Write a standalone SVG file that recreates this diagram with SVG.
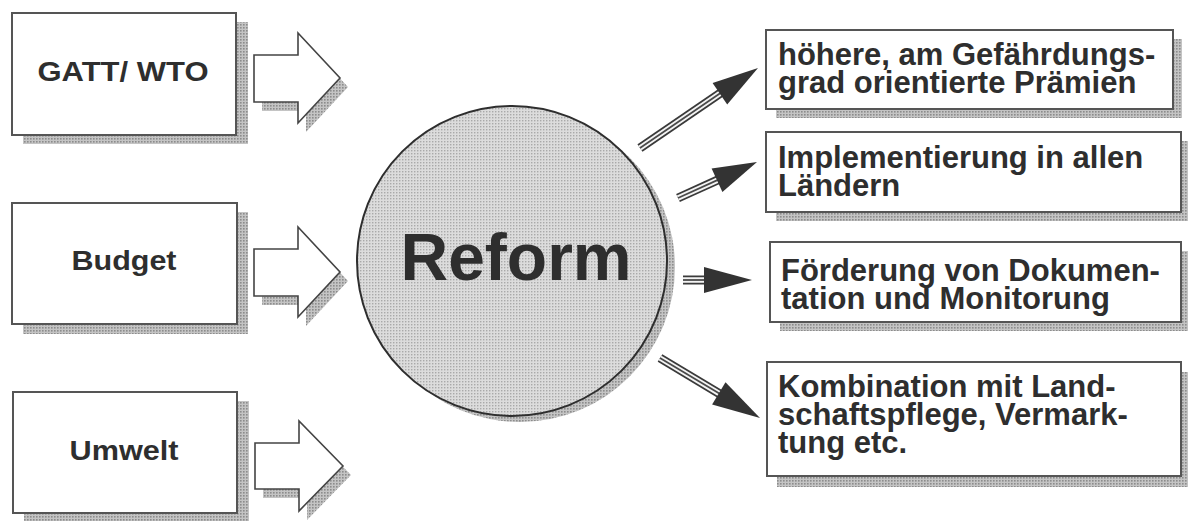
<svg xmlns="http://www.w3.org/2000/svg" width="1188" height="521" viewBox="0 0 1188 521">
  <defs>
    <!-- halftone dot screens -->
    <pattern id="shadeDots" width="3" height="3" patternUnits="userSpaceOnUse">
      <rect width="3" height="3" fill="#c4c4c4"/>
      <rect width="1.6" height="1.6" fill="#8c8c8c"/>
    </pattern>
    <pattern id="discDots" width="3" height="3" patternUnits="userSpaceOnUse">
      <rect width="3" height="3" fill="#dcdcdc"/>
      <rect width="1.4" height="1.4" fill="#a9a9a9"/>
    </pattern>
    <style>
      .box { fill: #ffffff; stroke: #555555; stroke-width: 2; }
      .shadow { fill: url(#shadeDots); stroke: none; }
      .lbl { font-family: "Liberation Sans", Arial, sans-serif; font-weight: bold; fill: #2e2e2e; }
      .left { font-size: 28px; text-anchor: middle; }
      .right { font-size: 31px; }
      .block { fill: #ffffff; stroke: #444444; stroke-width: 1.6; stroke-linejoin: miter; }
      .shaftOuter { stroke: #3a3a3a; stroke-width: 9; fill: none; }
      .shaftGap { stroke: #f4f4f4; stroke-width: 5.5; fill: none; }
      .shaftCore { stroke: #4a4a4a; stroke-width: 1.8; fill: none; }
      .head { fill: #333333; }
    </style>
  </defs>

  <rect width="1188" height="521" fill="#ffffff"/>

  <!-- input boxes -->
  <g id="node-gatt">
    <rect class="shadow" x="23" y="22" width="225" height="122"/>
    <rect class="box" x="12" y="13" width="224" height="122"/>
    <text class="lbl left" x="123" y="81" textLength="171" lengthAdjust="spacingAndGlyphs">GATT/ WTO</text>
  </g>
  <g id="node-budget">
    <rect class="shadow" x="23" y="212" width="225" height="122"/>
    <rect class="box" x="12" y="203" width="225" height="121"/>
    <text class="lbl left" x="124" y="270" textLength="105" lengthAdjust="spacingAndGlyphs">Budget</text>
  </g>
  <g id="node-umwelt">
    <rect class="shadow" x="24" y="401" width="225" height="120"/>
    <rect class="box" x="13" y="392" width="224" height="121"/>
    <text class="lbl left" x="124" y="460" textLength="109" lengthAdjust="spacingAndGlyphs">Umwelt</text>
  </g>

  <!-- central disc -->
  <g id="node-reform">
    <circle cx="520" cy="267" r="155" fill="url(#shadeDots)"/>
    <circle cx="512" cy="261" r="155" fill="url(#discDots)" stroke="#2e2e2e" stroke-width="2"/>
    <text class="lbl" x="516" y="280" font-size="66" text-anchor="middle" fill="#262626">Reform</text>
  </g>

  <!-- outcome boxes -->
  <g id="node-praemien">
    <rect class="shadow" x="776" y="39" width="406" height="79"/>
    <rect class="box" x="766" y="30" width="407" height="79"/>
    <text class="lbl right" x="778" y="65">höhere, am Gefährdungs-</text>
    <text class="lbl right" x="778" y="93">grad orientierte Prämien</text>
  </g>
  <g id="node-implementierung">
    <rect class="shadow" x="776" y="141" width="412" height="80"/>
    <rect class="box" x="766" y="132" width="415" height="80"/>
    <text class="lbl right" x="778" y="168">Implementierung in allen</text>
    <text class="lbl right" x="778" y="196">Ländern</text>
  </g>
  <g id="node-dokumentation">
    <rect class="shadow" x="780" y="251" width="408" height="80"/>
    <rect class="box" x="770" y="242" width="411" height="80"/>
    <text class="lbl right" x="781" y="281">Förderung von Dokumen-</text>
    <text class="lbl right" x="781" y="309">tation und Monitorung</text>
  </g>
  <g id="node-kombination">
    <rect class="shadow" x="777" y="372" width="411" height="115"/>
    <rect class="box" x="767" y="362" width="414" height="114"/>
    <text class="lbl right" x="778" y="397">Kombination mit Land-</text>
    <text class="lbl right" x="778" y="425">schaftspflege, Vermark-</text>
    <text class="lbl right" x="778" y="453">tung etc.</text>
  </g>

  <g id="connectors">
    <!-- hollow block arrows into the disc -->
    <polygon class="shadow" points="262,64 306,64 306,42 348,87 306,132 306,111 262,111"/>
    <polygon class="block" points="254,55 298,55 298,33 340,78 298,123 298,102 254,102"/>

    <polygon class="shadow" points="262,258 306,258 306,236 348,281 306,326 306,305 262,305"/>
    <polygon class="block" points="254,249 298,249 298,227 340,272 298,317 298,296 254,296"/>

    <polygon class="shadow" points="263,452 307,452 307,430 351,475 307,520 307,498 263,498"/>
    <polygon class="block" points="255,443 299,443 299,421 343,466 299,511 299,489 255,489"/>

    <!-- striped arrows out of the disc -->
    <g>
      <line class="shaftOuter" x1="640" y1="148" x2="722" y2="92"/>
      <line class="shaftGap" x1="640" y1="148" x2="722" y2="92"/>
      <line class="shaftCore" x1="640" y1="148" x2="722" y2="92"/>
      <polygon class="head" points="758,68 727.2,104.6 712.6,83"/>
    </g>
    <g>
      <line class="shaftOuter" x1="678" y1="198" x2="719" y2="179.4"/>
      <line class="shaftGap" x1="678" y1="198" x2="719" y2="179.4"/>
      <line class="shaftCore" x1="678" y1="198" x2="719" y2="179.4"/>
      <polygon class="head" points="757,162 722.4,192.1 711.6,168.5"/>
    </g>
    <g>
      <line class="shaftOuter" x1="683" y1="280" x2="706" y2="280"/>
      <line class="shaftGap" x1="683" y1="280" x2="706" y2="280"/>
      <line class="shaftCore" x1="683" y1="280" x2="706" y2="280"/>
      <polygon class="head" points="752,280 704,267 704,293"/>
    </g>
    <g>
      <line class="shaftOuter" x1="660" y1="358" x2="721" y2="394.6"/>
      <line class="shaftGap" x1="660" y1="358" x2="721" y2="394.6"/>
      <line class="shaftCore" x1="660" y1="358" x2="721" y2="394.6"/>
      <polygon class="head" points="760,418 712.1,404.4 725.5,382.2"/>
    </g>
  </g>
</svg>
